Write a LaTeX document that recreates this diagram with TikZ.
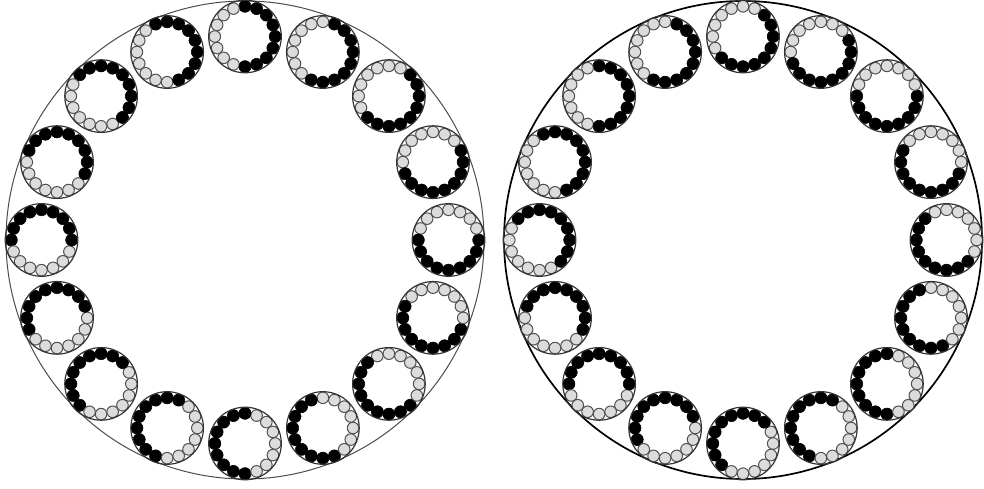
\documentclass[tikz,border=0pt]{standalone}
\definecolor{beadgrey}{HTML}{DCDCDC}
\definecolor{beadedge}{HTML}{505050}
\definecolor{ringedge}{HTML}{333333}
\tikzset{
  ringline/.style={draw=ringedge, line width=1.2pt},
  darkbead/.style={fill=black, draw=black, line width=0.6pt},
  lightbead/.style={fill=beadgrey, draw=beadedge, line width=1pt},
  leftbig/.style={draw=black!70, line width=1pt},
  rightbig/.style={draw=black, line width=1.7pt},
}
\begin{document}
\begin{tikzpicture}[x=1pt,y=1pt]
\useasboundingbox (0,0) rectangle (984,489);
\foreach \cx/\off/\bigstyle in {245/90/leftbig, 743/135/rightbig} {
  \draw[\bigstyle] (\cx pt,249pt) circle (239pt);
  \foreach \i in {0,...,15} {
    \pgfmathsetmacro\myang{90+22.5*\i}
    \begin{scope}[shift={(\cx pt,249pt)}, shift={(\myang:203.5pt)}, rotate={\myang-\off}]
      \foreach \k in {0,...,15} {
        \pgfmathtruncatemacro\isblack{(\k<5)||(\k>11)}
        \ifnum\isblack=1
          \draw[darkbead] (22.5*\k:30.2pt) circle (6.05pt);
        \else
          \draw[lightbead] (22.5*\k:30.2pt) circle (5.8pt);
        \fi
      }
      \draw[ringline] (0,0) circle (36.3pt);
    \end{scope}
  }
}
\end{tikzpicture}
\end{document}
